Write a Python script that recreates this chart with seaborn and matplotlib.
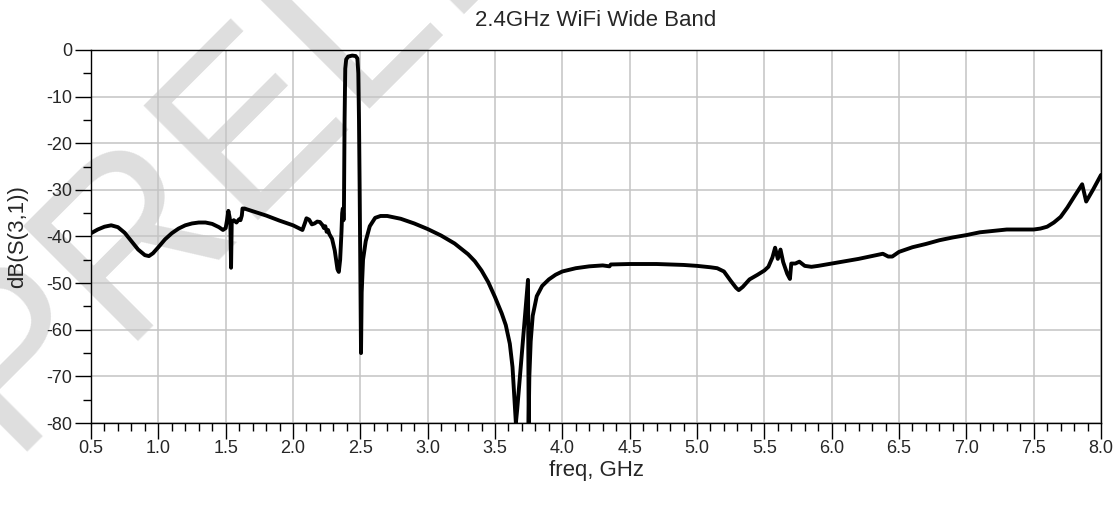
import numpy as np
import pandas as pd
import matplotlib
matplotlib.use("Agg")
import matplotlib.pyplot as plt
import seaborn as sns
from matplotlib.ticker import MultipleLocator

# S(3,1) sweep
freq_ghz = [
    0.50, 0.55, 0.60, 0.65, 0.70, 0.75, 0.80, 0.85, 0.90, 0.93, 0.96, 1.00,
    1.05, 1.10, 1.15, 1.20, 1.25, 1.30, 1.35, 1.40, 1.45, 1.48, 1.50, 1.51,
    1.52, 1.53, 1.535, 1.54, 1.545, 1.56, 1.58, 1.60, 1.61, 1.62, 1.625, 1.64,
    1.66, 1.80, 1.90, 2.00, 2.05, 2.07, 2.09, 2.10, 2.12, 2.14, 2.16, 2.18,
    2.20, 2.22, 2.23, 2.24, 2.25, 2.26, 2.27, 2.29, 2.31, 2.33, 2.34, 2.35,
    2.36, 2.365, 2.37, 2.375, 2.378, 2.383, 2.388, 2.395, 2.41, 2.44, 2.465, 2.478,
    2.485, 2.49, 2.495, 2.50, 2.505, 2.51, 2.52, 2.54, 2.57, 2.61, 2.65, 2.70,
    2.80, 2.90, 3.00, 3.10, 3.20, 3.30, 3.35, 3.40, 3.45, 3.50, 3.55, 3.58,
    3.61, 3.63, 3.645, 3.655, 3.665, 3.70, 3.745, 3.75, 3.755, 3.765, 3.78, 3.81,
    3.85, 3.90, 3.95, 4.00, 4.10, 4.20, 4.30, 4.35, 4.36, 4.50, 4.70, 4.90,
    5.00, 5.10, 5.15, 5.20, 5.25, 5.29, 5.31, 5.34, 5.39, 5.45, 5.50, 5.53,
    5.56, 5.58, 5.60, 5.62, 5.64, 5.67, 5.69, 5.70, 5.73, 5.76, 5.80, 5.85,
    5.90, 6.00, 6.10, 6.20, 6.30, 6.38, 6.42, 6.45, 6.50, 6.60, 6.70, 6.80,
    6.90, 7.00, 7.10, 7.20, 7.30, 7.40, 7.50, 7.55, 7.60, 7.65, 7.70, 7.75,
    7.80, 7.86, 7.89, 7.94, 8.00,
]
s31_db = [
    -39.3, -38.5, -37.9, -37.6, -38.0, -39.2, -41.0, -42.8, -44.0, -44.2, -43.6, -42.3,
    -40.6, -39.3, -38.3, -37.6, -37.2, -37.0, -37.0, -37.3, -38.0, -38.6, -38.2, -36.5,
    -34.5, -36.0, -37.5, -46.7, -37.0, -36.5, -37.0, -36.3, -36.5, -35.5, -34.0, -34.0,
    -34.2, -35.5, -36.6, -37.6, -38.3, -38.6, -37.0, -36.1, -36.4, -37.4, -37.2, -36.8,
    -36.9, -37.6, -38.2, -37.8, -39.0, -38.6, -39.5, -40.5, -43.0, -47.0, -47.6, -45.0,
    -39.0, -35.0, -34.0, -36.5, -35.0, -15.0, -4.0, -2.0, -1.4, -1.2, -1.3, -1.8,
    -5.0, -15.0, -30.0, -48.0, -65.0, -52.0, -45.0, -41.0, -37.8, -36.0, -35.6, -35.6,
    -36.2, -37.2, -38.4, -39.8, -41.5, -43.8, -45.3, -47.3, -49.8, -53.0, -56.5, -59.0,
    -63.0, -68.0, -75.0, -80.0, -77.0, -65.0, -49.3, -80.0, -70.0, -62.5, -57.0, -52.8,
    -50.6, -49.2, -48.2, -47.5, -46.8, -46.4, -46.2, -46.4, -46.0, -45.9, -45.9, -46.1,
    -46.3, -46.6, -46.8, -47.5, -49.5, -51.0, -51.5, -50.8, -49.2, -48.2, -47.3, -46.5,
    -44.5, -42.4, -44.8, -42.8, -45.5, -48.0, -49.1, -45.8, -45.8, -45.4, -46.3, -46.5,
    -46.3, -45.8, -45.3, -44.8, -44.2, -43.7, -44.3, -44.3, -43.3, -42.3, -41.6, -40.8,
    -40.2, -39.7, -39.1, -38.8, -38.5, -38.5, -38.5, -38.3, -37.9, -37.0, -35.8, -33.8,
    -31.5, -28.8, -32.5, -30.0, -26.8,
]

df = pd.DataFrame({"freq": freq_ghz, "db": s31_db})

sns.set_style("white")
plt.rcParams["font.family"] = ["Liberation Sans", "DejaVu Sans"]

fig = plt.figure(figsize=(11.18, 5.08), dpi=100)
ax = fig.add_axes([0.0814, 0.1673, 0.9034, 0.7343])

# faint watermark behind everything
ax.text(0.007, 0.110, "PRELIMINARY", transform=fig.transFigure, rotation=45,
        rotation_mode="anchor", ha="left", va="baseline", fontsize=170,
        color="#dedede", zorder=0.3, clip_on=False)

sns.lineplot(data=df, x="freq", y="db", ax=ax, color="black", lw=2.8,
             sort=False, estimator=None, zorder=3)

ax.set_xlim(0.5, 8.0)
ax.set_ylim(-80, 0)
ax.xaxis.set_major_locator(MultipleLocator(0.5))
ax.xaxis.set_minor_locator(MultipleLocator(0.1))
ax.yaxis.set_major_locator(MultipleLocator(10))
ax.yaxis.set_minor_locator(MultipleLocator(5))
ax.xaxis.set_major_formatter(lambda v, p: f"{v:.1f}")
ax.yaxis.set_major_formatter(lambda v, p: f"{v:.0f}")

ax.grid(True, which="major", color="#c4c4c4", lw=1.1, zorder=1)
ax.set_axisbelow(True)
ax.tick_params(which="major", direction="out", length=11.5, width=1.0,
               color="black", labelsize=13, pad=2)
ax.tick_params(axis="x", which="major", pad=1)
ax.tick_params(which="minor", direction="out", length=6, width=1.0, color="black")
ax.tick_params(axis="x", which="both", bottom=True)
ax.tick_params(axis="y", which="both", left=True)
for s in ax.spines.values():
    s.set_color("black")
    s.set_linewidth(1.0)

ax.set_title("2.4GHz WiFi Wide Band", fontsize=16, pad=17)
ax.set_xlabel("freq, GHz", fontsize=16, labelpad=2)
ax.set_ylabel("dB(S(3,1))", fontsize=16, labelpad=13)

fig.savefig("out.png", dpi=100)
